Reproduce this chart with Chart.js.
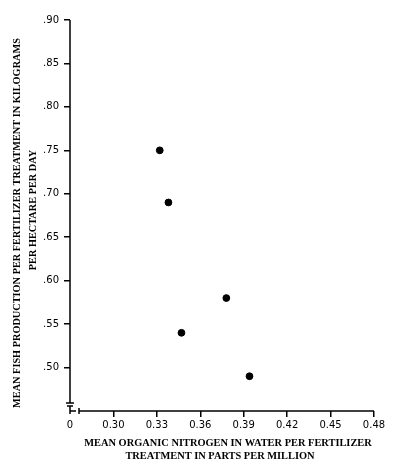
<!DOCTYPE html>
<html lang="en">
<head>
    <meta charset="UTF-8">
    <title>Fish production vs organic nitrogen</title>
    <script src="https://cdn.jsdelivr.net/npm/chart.js"></script>
    <style>
        body { margin: 0; background: #fff; }
        #wrap { width: 400px; height: 468px; }
    </style>
</head>
<body>
    <div id="wrap"><canvas id="scatter"></canvas></div>

    <script>
        // Data
        const nitrogen = [0.332, 0.338, 0.378, 0.347, 0.394];   // ppm
        const fishProduction = [0.75, 0.69, 0.58, 0.54, 0.49];    // kg / ha / day

        // Axis ticks (x axis starts at a break, labelled "0")
        const xTickValues = [0.27, 0.30, 0.33, 0.36, 0.39, 0.42, 0.45, 0.48];
        const xTickLabels = ['0', '0.30', '0.33', '0.36', '0.39', '0.42', '0.45', '0.48'];
        const yTickValues = [0.50, 0.55, 0.60, 0.65, 0.70, 0.75, 0.80, 0.85, 0.90];
        const yTickLabels = ['.50', '.55', '.60', '.65', '.70', '.75', '.80', '.85', '.90'];

        const xTitle = ['MEAN ORGANIC NITROGEN IN WATER PER FERTILIZER', 'TREATMENT IN PARTS PER MILLION'];
        const yTitle = ['MEAN FISH PRODUCTION PER FERTILIZER TREATMENT IN KILOGRAMS', 'PER HECTARE PER DAY'];

        const tickFont = { family: 'DejaVu Sans', size: 10 };

        // axis lines with the little break marks at the corner
        const axisBreaks = {
            id: 'axisBreaks',
            afterDraw(chart) {
                const ctx = chart.ctx;
                const xs = chart.scales.x, ys = chart.scales.y;
                const x0 = xs.left, y0 = ys.bottom;
                ctx.save();
                ctx.strokeStyle = '#000';
                ctx.lineWidth = 1.5;
                ctx.beginPath();
                ctx.moveTo(x0, ys.getPixelForValue(0.90));
                ctx.lineTo(x0, y0 - 8);
                ctx.moveTo(x0 - 4, y0 - 8);
                ctx.lineTo(x0 + 4, y0 - 8);
                ctx.moveTo(x0 - 3, y0 - 5);
                ctx.lineTo(x0 + 3, y0 - 5);
                ctx.moveTo(x0, y0 - 5);
                ctx.lineTo(x0, y0 + 3);
                ctx.moveTo(x0, y0);
                ctx.lineTo(x0 + 6, y0);
                ctx.moveTo(x0 + 9, y0 - 3);
                ctx.lineTo(x0 + 9, y0 + 3);
                ctx.moveTo(x0 + 9, y0);
                ctx.lineTo(xs.right, y0);
                ctx.stroke();
                ctx.restore();
            }
        };

        // axis titles, placed like in the printed figure
        const axisTitles = {
            id: 'axisTitles',
            afterDraw(chart) {
                const ctx = chart.ctx;
                const a = chart.chartArea;
                ctx.save();
                ctx.fillStyle = '#000';
                ctx.textAlign = 'center';
                ctx.textBaseline = 'middle';
                ctx.font = 'bold 10.4px "Liberation Serif"';
                ctx.fillText(xTitle[0], a.left + 158, a.bottom + 32);
                ctx.fillText(xTitle[1], a.left + 150, a.bottom + 45);
                ctx.font = 'bold 10.3px "Liberation Serif"';
                ctx.translate(17, a.top + 203);
                ctx.rotate(-Math.PI / 2);
                ctx.fillText(yTitle[0], 0, 0);
                ctx.fillText(yTitle[1], 13, 16);
                ctx.restore();
            }
        };

        new Chart(document.getElementById('scatter').getContext('2d'), {
            type: 'scatter',
            data: {
                datasets: [{
                    data: nitrogen.map((v, i) => ({ x: v, y: fishProduction[i] })),
                    backgroundColor: '#000',
                    borderColor: '#000',
                    pointRadius: 3.4,
                    pointHoverRadius: 3.4
                }]
            },
            options: {
                responsive: true,
                maintainAspectRatio: false,
                animation: false,
                layout: { padding: { top: 20, right: 26, left: 0, bottom: 0 } },
                plugins: { legend: { display: false }, tooltip: { enabled: false } },
                scales: {
                    x: {
                        type: 'linear',
                        min: 0.27,
                        max: 0.48,
                        afterBuildTicks: s => { s.ticks = xTickValues.map(v => ({ value: v })); },
                        afterFit: s => { s.height = 57; },
                        border: { display: false },
                        grid: {
                            drawOnChartArea: false,
                            tickLength: 6,
                            lineWidth: 1.5,
                            tickColor: c => c.index === 0 ? 'rgba(0,0,0,0)' : '#000'
                        },
                        ticks: {
                            color: '#000',
                            font: tickFont,
                            padding: 2,
                            maxRotation: 0,
                            autoSkip: false,
                            callback: (v, i) => xTickLabels[i]
                        }
                    },
                    y: {
                        min: 0.45,
                        max: 0.90,
                        afterBuildTicks: s => { s.ticks = yTickValues.map(v => ({ value: v })); },
                        afterFit: s => { s.width = 70; },
                        border: { display: false },
                        grid: {
                            drawOnChartArea: false,
                            tickLength: 6,
                            lineWidth: 1.5,
                            tickColor: '#000'
                        },
                        ticks: {
                            color: '#000',
                            font: tickFont,
                            padding: 5,
                            autoSkip: false,
                            callback: (v, i) => yTickLabels[i]
                        }
                    }
                }
            },
            plugins: [axisBreaks, axisTitles]
        });
    </script>
</body>
</html>
